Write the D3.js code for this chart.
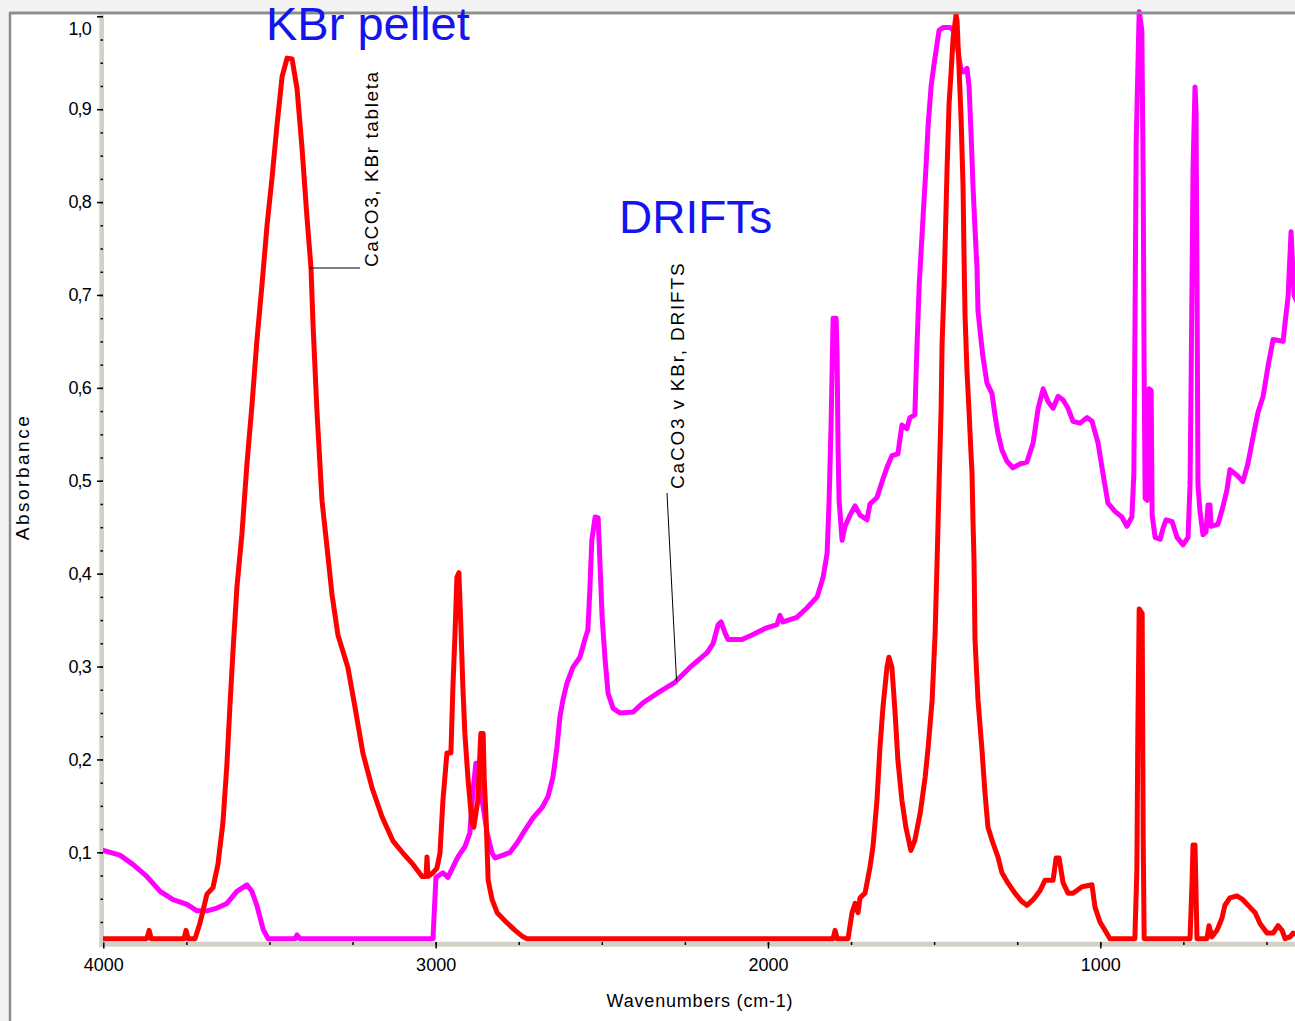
<!DOCTYPE html>
<html lang="en">
<head>
<meta charset="UTF-8">
<title>CaCO3 - KBr pellet vs DRIFTS</title>
<style>
  body { margin: 0; background: #fff; }
  svg { display: block; font-family: "Liberation Sans", Arial, sans-serif; }
</style>
</head>
<body>
<svg id="chart" width="1295" height="1021"></svg>
<script src="https://d3js.org/d3.v7.min.js"></script>
<script>
// KBr pellet spectrum (red)
var kbrWavenumber = [4000, 3869, 3862, 3856, 3757, 3751, 3745, 3724, 3709, 3688, 3670, 3655, 3640, 3628, 3619, 3610,
  3598, 3583, 3568, 3553, 3538, 3522, 3507, 3492, 3477, 3462, 3447, 3432, 3417, 3402, 3387, 3375, 3369, 3357, 3342,
  3327, 3312, 3294, 3264, 3243, 3219, 3191, 3161, 3128, 3098, 3068, 3041, 3029, 3026, 3023, 3008, 2996, 2987, 2978,
  2966, 2954, 2948, 2942, 2936, 2930, 2924, 2918, 2912, 2903, 2891, 2885, 2873, 2864, 2857, 2854, 2848, 2842, 2830,
  2815, 2785, 2761, 2737, 2725, 1804, 1798, 1792, 1759, 1747, 1738, 1729, 1723, 1708, 1702, 1693, 1684, 1672, 1663,
  1654, 1642, 1636, 1627, 1618, 1609, 1597, 1585, 1570, 1558, 1542, 1527, 1518, 1506, 1497, 1491, 1485, 1479, 1476,
  1470, 1467, 1461, 1455, 1449, 1443, 1434, 1431, 1425, 1419, 1413, 1410, 1407, 1401, 1395, 1389, 1386, 1383, 1380,
  1377, 1368, 1356, 1347, 1338, 1323, 1308, 1296, 1278, 1257, 1236, 1221, 1202, 1181, 1166, 1142, 1133, 1124, 1112,
  1097, 1082, 1055, 1025, 1016, 1001, 986, 971, 896, 890, 887, 883, 874, 871, 868, 730, 724, 721, 715, 709, 679, 673,
  664, 649, 634, 625, 610, 589, 571, 550, 534, 519, 498, 480, 465, 453, 444, 429, 420, 405];
var kbrAbsorbance = [0.007, 0.007, 0.016, 0.007, 0.007, 0.016, 0.007, 0.007, 0.024, 0.055, 0.062, 0.087, 0.132, 0.195,
  0.257, 0.315, 0.385, 0.442, 0.517, 0.580, 0.650, 0.713, 0.776, 0.827, 0.884, 0.935, 0.955, 0.954, 0.922, 0.858,
  0.783, 0.729, 0.669, 0.574, 0.479, 0.429, 0.378, 0.334, 0.299, 0.257, 0.207, 0.169, 0.138, 0.112, 0.099, 0.087,
  0.074, 0.074, 0.095, 0.074, 0.078, 0.083, 0.099, 0.156, 0.207, 0.207, 0.278, 0.332, 0.396, 0.401, 0.343, 0.278,
  0.228, 0.181, 0.132, 0.127, 0.156, 0.228, 0.228, 0.181, 0.135, 0.070, 0.049, 0.035, 0.024, 0.016, 0.009, 0.007,
  0.007, 0.016, 0.007, 0.007, 0.035, 0.045, 0.035, 0.051, 0.056, 0.067, 0.084, 0.106, 0.156, 0.213, 0.256, 0.299,
  0.310, 0.299, 0.253, 0.199, 0.156, 0.127, 0.102, 0.113, 0.142, 0.181, 0.213, 0.264, 0.336, 0.415, 0.498, 0.578,
  0.648, 0.710, 0.752, 0.837, 0.906, 0.940, 0.976, 1.002, 0.995, 0.944, 0.891, 0.817, 0.741, 0.678, 0.617, 0.575,
  0.529, 0.509, 0.456, 0.415, 0.329, 0.264, 0.210, 0.164, 0.127, 0.110, 0.095, 0.078, 0.067, 0.056, 0.047, 0.043,
  0.049, 0.059, 0.070, 0.070, 0.094, 0.094, 0.067, 0.056, 0.056, 0.063, 0.065, 0.041, 0.025, 0.016, 0.007, 0.007,
  0.081, 0.233, 0.362, 0.357, 0.118, 0.007, 0.007, 0.067, 0.108, 0.108, 0.007, 0.007, 0.021, 0.009, 0.016, 0.029,
  0.043, 0.051, 0.053, 0.049, 0.041, 0.035, 0.023, 0.013, 0.013, 0.021, 0.016, 0.007, 0.009, 0.013, 0.011];

// DRIFTS spectrum (magenta)
var driftsWavenumber = [4000, 3950, 3911, 3869, 3829, 3790, 3748, 3718, 3688, 3658, 3628, 3598, 3568, 3553, 3538, 3519,
  3504, 3423, 3417, 3408, 3008, 2999, 2978, 2963, 2948, 2933, 2912, 2897, 2888, 2879, 2873, 2860, 2845, 2830, 2821,
  2797, 2776, 2755, 2731, 2707, 2680, 2662, 2647, 2635, 2626, 2617, 2605, 2587, 2566, 2551, 2542, 2536, 2530, 2520,
  2511, 2505, 2499, 2490, 2481, 2466, 2445, 2406, 2376, 2334, 2280, 2235, 2183, 2165, 2150, 2141, 2129, 2120, 2078,
  2048, 2009, 1973, 1964, 1955, 1913, 1883, 1852, 1834, 1822, 1816, 1810, 1804, 1795, 1792, 1789, 1786, 1777, 1768,
  1753, 1738, 1723, 1702, 1693, 1672, 1654, 1639, 1627, 1609, 1597, 1582, 1573, 1558, 1552, 1545, 1539, 1533, 1524,
  1518, 1509, 1500, 1491, 1485, 1473, 1452, 1443, 1431, 1419, 1413, 1401, 1395, 1389, 1383, 1377, 1371, 1368, 1359,
  1353, 1341, 1326, 1317, 1308, 1296, 1281, 1263, 1242, 1221, 1202, 1187, 1172, 1157, 1142, 1127, 1112, 1097, 1082,
  1061, 1040, 1025, 1007, 992, 977, 956, 935, 920, 905, 899, 896, 892, 883, 875, 871, 868, 865, 859, 853, 847, 844,
  835, 820, 811, 802, 784, 769, 751, 736, 730, 727, 721, 715, 712, 709, 706, 700, 691, 682, 676, 670, 667, 646, 631,
  619, 610, 589, 571, 556, 541, 526, 510, 495, 480, 450, 444, 435, 426, 417, 405];
var driftsAbsorbance = [0.102, 0.097, 0.087, 0.074, 0.058, 0.049, 0.044, 0.037, 0.037, 0.040, 0.045, 0.058, 0.065,
  0.058, 0.043, 0.017, 0.007, 0.007, 0.011, 0.007, 0.007, 0.073, 0.078, 0.073, 0.084, 0.095, 0.106, 0.121, 0.164,
  0.196, 0.196, 0.156, 0.121, 0.099, 0.094, 0.097, 0.100, 0.110, 0.124, 0.137, 0.148, 0.160, 0.181, 0.213, 0.246,
  0.264, 0.282, 0.299, 0.310, 0.329, 0.339, 0.382, 0.436, 0.461, 0.460, 0.407, 0.353, 0.307, 0.271, 0.255, 0.250,
  0.251, 0.261, 0.271, 0.283, 0.299, 0.315, 0.325, 0.345, 0.348, 0.336, 0.329, 0.329, 0.334, 0.341, 0.345, 0.355,
  0.348, 0.353, 0.363, 0.375, 0.396, 0.422, 0.479, 0.562, 0.675, 0.675, 0.636, 0.533, 0.479, 0.436, 0.451, 0.463,
  0.473, 0.463, 0.458, 0.475, 0.482, 0.502, 0.517, 0.527, 0.529, 0.560, 0.556, 0.568, 0.571, 0.641, 0.710, 0.748,
  0.786, 0.841, 0.883, 0.925, 0.949, 0.971, 0.985, 0.988, 0.988, 0.985, 0.969, 0.942, 0.940, 0.944, 0.925, 0.875,
  0.817, 0.771, 0.729, 0.683, 0.652, 0.633, 0.605, 0.594, 0.571, 0.551, 0.533, 0.521, 0.514, 0.518, 0.520, 0.541,
  0.578, 0.599, 0.585, 0.578, 0.591, 0.587, 0.578, 0.564, 0.562, 0.568, 0.564, 0.541, 0.508, 0.476, 0.467, 0.461,
  0.451, 0.461, 0.508, 0.647, 0.864, 1.005, 0.985, 0.824, 0.615, 0.481, 0.479, 0.599, 0.597, 0.463, 0.439, 0.437,
  0.449, 0.458, 0.456, 0.439, 0.431, 0.439, 0.495, 0.597, 0.835, 0.924, 0.899, 0.716, 0.495, 0.467, 0.442, 0.445,
  0.474, 0.474, 0.451, 0.453, 0.472, 0.490, 0.512, 0.506, 0.499, 0.518, 0.546, 0.573, 0.591, 0.624, 0.652, 0.650,
  0.670, 0.698, 0.768, 0.700, 0.690];

var xMajor = [4000, 3000, 2000, 1000];
var xMinor = d3.range(3750, 400, -250);
var yMajor = [0.1, 0.2, 0.3, 0.4, 0.5, 0.6, 0.7, 0.8, 0.9, 1.0];
var yLabels = ["0,1", "0,2", "0,3", "0,4", "0,5", "0,6", "0,7", "0,8", "0,9", "1,0"];
var yMinor = d3.range(0.025, 1.0, 0.025);

var svg = d3.select("#chart");

var x = d3.scaleLinear().domain([4000, 400]).range([103.3, 1299.7]);
var y = d3.scaleLinear().domain([0, 1]).range([945.2, 16.3]);

// page background + plot frame
svg.append("rect").attr("width", 1295).attr("height", 1021).attr("fill", "#f3f3f3");
svg.append("rect").attr("x", 10).attr("y", 13).attr("width", 1285).attr("height", 1008).attr("fill", "#fff");
svg.append("path")
  .attr("d", "M10,1021V13H1295")
  .attr("fill", "none").attr("stroke", "#8c8c8c").attr("stroke-width", 2.5);

// axis bands
svg.append("rect").attr("x", 99.3).attr("y", 15).attr("width", 4.7).attr("height", 932).attr("fill", "#d4d0c8");
svg.append("rect").attr("x", 99.3).attr("y", 941.7).attr("width", 1196).attr("height", 5).attr("fill", "#d4d0c8");

// y axis
var yAx = svg.append("g").attr("transform", "translate(103,0)")
  .call(d3.axisLeft(y).tickValues(yMajor).tickSize(6).tickPadding(6)
    .tickFormat(function (d, i) { return yLabels[i]; }));
yAx.select(".domain").remove();
yAx.selectAll("text").attr("font-size", 18).attr("fill", "#000").attr("font-family", null)
  .attr("letter-spacing", -0.8)
  .attr("y", function (d) { return d === 1.0 ? 12 : 0; });
yAx.selectAll("line").attr("stroke", "#000").attr("stroke-width", 1.5);

var yMin = svg.append("g").attr("transform", "translate(103,0)")
  .call(d3.axisLeft(y).tickValues(yMinor).tickSize(2.5).tickFormat(""));
yMin.select(".domain").remove();
yMin.selectAll("line").attr("stroke", "#000").attr("stroke-width", 1.5);

// x axis
var xAx = svg.append("g").attr("transform", "translate(0,942.5)")
  .call(d3.axisBottom(x).tickValues(xMajor).tickSize(6).tickPadding(9.5).tickFormat(d3.format("d")));
xAx.select(".domain").remove();
xAx.selectAll("text").attr("font-size", 18).attr("fill", "#000").attr("font-family", null);
xAx.selectAll("line").attr("stroke", "#000").attr("stroke-width", 1.5);

var xMin = svg.append("g").attr("transform", "translate(0,942)")
  .call(d3.axisBottom(x).tickValues(xMinor).tickSize(3).tickFormat(""));
xMin.select(".domain").remove();
xMin.selectAll("line").attr("stroke", "#000").attr("stroke-width", 1.5);

// axis titles
svg.append("text").attr("x", 700).attr("y", 1007).attr("text-anchor", "middle")
  .attr("font-size", 18).attr("letter-spacing", 0.8).text("Wavenumbers (cm-1)");
svg.append("text").attr("transform", "translate(29,477) rotate(-90)").attr("text-anchor", "middle")
  .attr("font-size", 19).attr("letter-spacing", 2.5).text("Absorbance");

// spectra
var line = d3.line()
  .x(function (d) { return x(d[0]); })
  .y(function (d) { return y(d[1]); });

svg.append("clipPath").attr("id", "plotClip")
  .append("rect").attr("x", 103).attr("y", 0).attr("width", 1192).attr("height", 945);

svg.append("path")
  .datum(d3.zip(driftsWavenumber, driftsAbsorbance))
  .attr("clip-path", "url(#plotClip)")
  .attr("d", line)
  .attr("fill", "none").attr("stroke", "#ff00ff").attr("stroke-width", 5)
  .attr("stroke-linejoin", "round").attr("stroke-linecap", "round");

svg.append("path")
  .datum(d3.zip(kbrWavenumber, kbrAbsorbance))
  .attr("clip-path", "url(#plotClip)")
  .attr("d", line)
  .attr("fill", "none").attr("stroke", "#ff0000").attr("stroke-width", 5)
  .attr("stroke-linejoin", "round").attr("stroke-linecap", "round");

// redraw top frame line over the peaks
svg.append("line").attr("x1", 10).attr("x2", 1295).attr("y1", 13).attr("y2", 13)
  .attr("stroke", "#8c8c8c").attr("stroke-width", 2.5);

// curve labels with leader lines
svg.append("line").attr("x1", x(3380)).attr("y1", 268).attr("x2", 360).attr("y2", 268)
  .attr("stroke", "#000").attr("stroke-width", 1);
svg.append("text").attr("transform", "translate(378,267) rotate(-90)")
  .attr("font-size", 19).attr("letter-spacing", 1.6).text("CaCO3, KBr tableta");

svg.append("line").attr("x1", 667).attr("y1", 493).attr("x2", x(2275)).attr("y2", y(0.284))
  .attr("stroke", "#000").attr("stroke-width", 1);
svg.append("text").attr("transform", "translate(684,489) rotate(-90)")
  .attr("font-size", 19).attr("letter-spacing", 1.8).text("CaCO3 v KBr, DRIFTS");

// big blue captions
svg.append("text").attr("x", 266).attr("y", 40).attr("font-size", 47).attr("fill", "#1414f0").text("KBr pellet");
svg.append("text").attr("x", 619).attr("y", 233).attr("font-size", 46).attr("fill", "#1414f0").text("DRIFTs");
</script>
</body>
</html>
